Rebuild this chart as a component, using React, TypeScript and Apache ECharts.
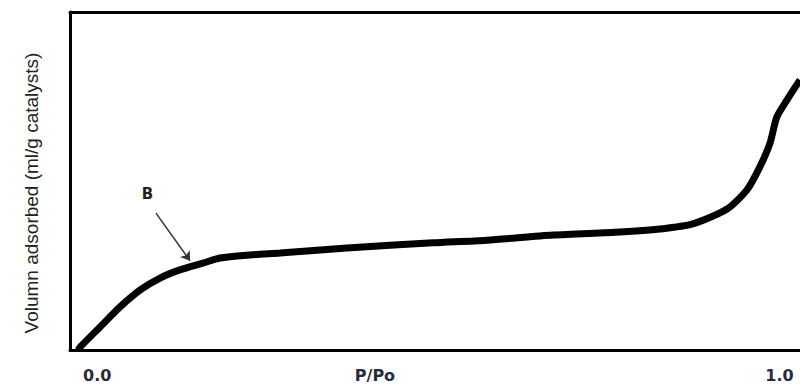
import React, { useEffect, useRef } from "react";
import * as echarts from "echarts";

// Isotherm curve (x: P/Po, y: relative volume adsorbed)
const pressure = [-0.028, -0.025, 0.004, 0.033, 0.063, 0.092, 0.121, 0.155, 0.18, 0.224, 0.268, 0.366, 0.492, 0.571, 0.668, 0.766, 0.825, 0.873, 0.923, 0.952, 0.971, 0.986, 0.996, 1.011, 1.03];
const volume = [0, 0.9, 6.8, 12.7, 17.8, 21.3, 23.7, 25.7, 27.2, 28.1, 28.7, 30.2, 31.7, 32.5, 34.0, 34.9, 35.8, 37.3, 41.7, 47.3, 54.1, 61.2, 68.9, 74.0, 79.9];

// x-axis texts and where they sit
const tickValues = [0, 0.407, 1];
const tickLabels = ["0.0", "P/Po", "1.0"];

// annotation "B" and its arrow
const labelB = { text: "B", x: 0.0736, y: 46.2 };
const arrowFrom = [0.086, 40.5];
const arrowTo = [0.136, 26.4];

const yTitle = "Volumn adsorbed (ml/g catalysts)";

export default function App() {
  const ref = useRef<HTMLDivElement>(null);
  useEffect(() => {
    if (!ref.current) return;
    const chart = echarts.init(ref.current, undefined, { renderer: "svg" });
    const data = pressure.map((p, i) => [p, volume[i]]);
    chart.setOption({
      animation: false,
      backgroundColor: "#ffffff",
      grid: { left: 70, right: 0, top: 12, bottom: 40 },
      xAxis: [
        {
          type: "value",
          min: -0.04,
          max: 1.03,
          splitLine: { show: false },
          axisTick: { show: false },
          axisLine: { show: true, onZero: false, lineStyle: { color: "#000", width: 3 } },
          axisLabel: {
            customValues: tickValues,
            formatter: (v: number) => {
              const i = tickValues.findIndex((t) => Math.abs(t - v) < 1e-6);
              return i >= 0 ? tickLabels[i] : "";
            },
            margin: 17,
            fontFamily: "DejaVu Sans",
            fontWeight: "bold",
            fontSize: 16,
            color: "#2a2a3a",
            showMinLabel: true,
            showMaxLabel: true,
          },
        },
        {
          type: "value",
          position: "top",
          min: -0.04,
          max: 1.03,
          splitLine: { show: false },
          axisTick: { show: false },
          axisLabel: { show: false },
          axisLine: { show: true, onZero: false, lineStyle: { color: "#000", width: 3 } },
        },
      ],
      yAxis: {
        type: "value",
        min: 0,
        max: 100,
        splitLine: { show: false },
        axisTick: { show: false },
        axisLabel: { show: false },
        axisLine: { show: true, onZero: false, lineStyle: { color: "#000", width: 3 } },
        name: yTitle,
        nameLocation: "middle",
        nameGap: 29,
        nameTextStyle: {
          fontFamily: "Liberation Sans Narrow, Arial Narrow, sans-serif",
          fontSize: 19,
          color: "#222",
          padding: [0, 24, 0, 0],
        },
      },
      series: [
        {
          type: "line",
          data,
          smooth: 0.25,
          showSymbol: false,
          symbol: "none",
          lineStyle: { color: "#000", width: 7 },
          clip: true,
          markPoint: {
            symbol: "rect",
            symbolSize: 1,
            itemStyle: { color: "rgba(0,0,0,0)" },
            label: {
              show: true,
              position: "inside",
              formatter: labelB.text,
              fontFamily: "DejaVu Sans",
              fontWeight: "bold",
              fontSize: 15,
              color: "#222",
            },
            data: [{ coord: [labelB.x, labelB.y] }],
          },
          markLine: {
            silent: true,
            symbol: ["none", "arrow"],
            symbolSize: 9,
            label: { show: false },
            lineStyle: { color: "#333", width: 1.5, type: "solid" },
            data: [[{ coord: arrowFrom }, { coord: arrowTo }]],
          },
        },
      ],
    });
    return () => chart.dispose();
  }, []);
  return <div ref={ref} style={{ width: 800, height: 390, position: "absolute", left: 0, top: 0 }} />;
}
